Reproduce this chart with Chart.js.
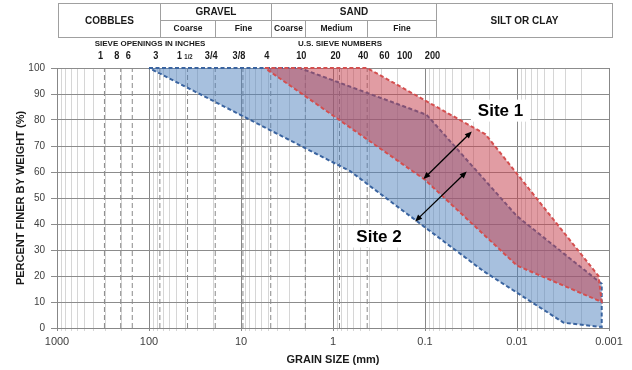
<!DOCTYPE html>
<html>
<head>
<meta charset="utf-8">
<script src="https://cdn.jsdelivr.net/npm/chart.js@4.4.1/dist/chart.umd.min.js"></script>
<style>
  html, body { margin: 0; padding: 0; background: #fff; }
  #wrap { width: 632px; height: 370px; }
</style>
</head>
<body>
<div id="wrap"><canvas id="chart"></canvas></div>
<script>
// grain size bands, size in mm and percent finer
const site1UpperSize = [5.5, 0.425, 0.022, 0.0013];
const site1UpperPct  = [100, 100, 74.5, 20];
const site1LowerSize = [5.5, 0.1, 0.01, 0.0012];
const site1LowerPct  = [100, 57, 24, 10];

const site2UpperSize = [100, 2.3, 0.096, 0.01, 0.0012];
const site2UpperPct  = [100, 100, 82, 43, 17];
const site2LowerSize = [100, 0.65, 0.023, 0.0031, 0.0012];
const site2LowerPct  = [100, 60.3, 21.8, 2, 0.4];

// axes
const decades = [1000, 100, 10, 1, 0.1, 0.01, 0.001];
const decadeLabels = ['1000', '100', '10', '1', '0.1', '0.01', '0.001'];
const pctTicks = [0, 10, 20, 30, 40, 50, 60, 70, 80, 90, 100];

// sieves (dashed lines + labels)
const sieveLineSizes = [305, 203, 152, 76.2, 38.1, 19.05, 9.525, 4.75, 2.0, 0.85, 0.425];
const sieveLabelSizes = [305, 203, 152, 76.2, 38.1, 19.05, 9.525, 4.75, 2.0, 0.85, 0.425, 0.25, 0.15, 0.075];
const sieveLabels = ['1', '8', '6', '3', '1 1/2', '3/4', '3/8', '4', '10', '20', '40', '60', '100', '200'];

// soil classes header
const classBounds = [76.2, 19.05, 4.75, 2.0, 0.425, 0.075];
const mainClasses = ['COBBLES', 'GRAVEL', 'SAND', 'SILT OR CLAY'];
const subClasses = ['Coarse', 'Fine', 'Coarse', 'Medium', 'Fine'];

// annotations [size, pct]
const site1Arrow = [[0.104, 57.3], [0.031, 75.6]];
const site2Arrow = [[0.128, 41], [0.0352, 60.2]];
const siteLabels = ['Site 1', 'Site 2'];
const siteLabelPos = [[0.0151, 83.6], [0.316, 35.2]];


function polygon(upS, upP, loS, loP) {
  const pts = upS.map((s, i) => ({ x: s, y: upP[i] }));
  for (let i = loS.length - 1; i >= 0; i--) pts.push({ x: loS[i], y: loP[i] });
  return pts;
}

function isDecade(v) {
  return decades.some(d => Math.abs(d - v) / d < 1e-6);
}

const gridValues = [];
decades.slice(1).forEach(d => {
  for (let k = 1; k <= 9; k++) gridValues.push(+(d * k).toPrecision(6));
});
gridValues.push(1000);
gridValues.sort((a, b) => a - b);

const sieveLineData = [];
sieveLineSizes.forEach(s => {
  sieveLineData.push({ x: s, y: 0 }, { x: s, y: 100 }, { x: s, y: null });
});

const FONT = "'Liberation Sans', Arial, sans-serif";

function hline(ctx, x1, x2, y) { ctx.beginPath(); ctx.moveTo(x1, y); ctx.lineTo(x2, y); ctx.stroke(); }
function vline(ctx, x, y1, y2) { ctx.beginPath(); ctx.moveTo(x, y1); ctx.lineTo(x, y2); ctx.stroke(); }

function arrow(ctx, x1, y1, x2, y2) {
  const a = Math.atan2(y2 - y1, x2 - x1);
  const len = 7, w = 3;
  ctx.beginPath();
  ctx.moveTo(x1 + Math.cos(a) * 4, y1 + Math.sin(a) * 4);
  ctx.lineTo(x2 - Math.cos(a) * 4, y2 - Math.sin(a) * 4);
  ctx.stroke();
  [[x1, y1, a + Math.PI], [x2, y2, a]].forEach(([x, y, t]) => {
    ctx.beginPath();
    ctx.moveTo(x, y);
    ctx.lineTo(x - Math.cos(t) * len - Math.sin(t) * w, y - Math.sin(t) * len + Math.cos(t) * w);
    ctx.lineTo(x - Math.cos(t) * len + Math.sin(t) * w, y - Math.sin(t) * len - Math.cos(t) * w);
    ctx.closePath();
    ctx.fill();
  });
}

const headerPlugin = {
  id: 'header',
  afterDatasetsDraw(chart) {
    const { ctx } = chart;
    const xs = chart.scales.x, ys = chart.scales.y;
    ctx.save();
    // arrows
    ctx.strokeStyle = '#000'; ctx.fillStyle = '#000'; ctx.lineWidth = 1.3;
    [site1Arrow, site2Arrow].forEach(a => {
      arrow(ctx, xs.getPixelForValue(a[0][0]), ys.getPixelForValue(a[0][1]),
                 xs.getPixelForValue(a[1][0]), ys.getPixelForValue(a[1][1]));
    });
    // site labels
    ctx.font = 'bold 17px ' + FONT;
    ctx.textAlign = 'center'; ctx.textBaseline = 'middle';
    siteLabels.forEach((t, i) => {
      const x = xs.getPixelForValue(siteLabelPos[i][0]);
      const y = ys.getPixelForValue(siteLabelPos[i][1]);
      const w = ctx.measureText(t).width + 14;
      ctx.fillStyle = '#fff';
      ctx.fillRect(x - w / 2, y - 11, w, 22);
      ctx.fillStyle = '#000';
      ctx.fillText(t, x, y + 1);
    });
    ctx.restore();
  },
  afterDraw(chart) {
    const { ctx, chartArea } = chart;
    const xs = chart.scales.x;
    const px = v => Math.round(xs.getPixelForValue(v)) + 0.5;
    const left = chartArea.left + 1.5, right = chartArea.right + 3.5;
    const top = 3.5, mid = 20.5, bot = 37.5;
    const b = classBounds.map(px);
    ctx.save();
    ctx.strokeStyle = '#a0a0a0'; ctx.lineWidth = 1;
    ctx.strokeRect(left, top, right - left, bot - top);
    vline(ctx, b[0], top, bot); vline(ctx, b[2], top, bot); vline(ctx, b[5], top, bot);
    hline(ctx, b[0], b[5], mid);
    vline(ctx, b[1], mid, bot); vline(ctx, b[3], mid, bot); vline(ctx, b[4], mid, bot);

    ctx.fillStyle = '#1a1a1a';
    ctx.textAlign = 'center'; ctx.textBaseline = 'middle';
    ctx.font = 'bold 10px ' + FONT;
    ctx.fillText(mainClasses[0], (left + b[0]) / 2, 21);
    ctx.fillText(mainClasses[1], (b[0] + b[2]) / 2, 12.5);
    ctx.fillText(mainClasses[2], (b[2] + b[5]) / 2, 12.5);
    ctx.fillText(mainClasses[3], (b[5] + right) / 2, 21);
    ctx.font = 'bold 8.5px ' + FONT;
    subClasses.forEach((t, i) => {
      ctx.fillText(t, (b[i] + b[i + 1]) / 2, 29);
    });

    // sieve captions
    ctx.font = 'bold 8px ' + FONT;
    ctx.fillText('SIEVE OPENINGS IN INCHES', 150, 44);
    ctx.fillText('U.S. SIEVE NUMBERS', 340, 44);

    sieveLabels.forEach((t, i) => {
      const x = xs.getPixelForValue(sieveLabelSizes[i]) - 4;
      ctx.save();
      ctx.translate(x, 56);
      ctx.scale(0.8, 1);
      if (t === '1 1/2') {
        ctx.font = 'bold 11px ' + FONT;
        ctx.textAlign = 'right';
        ctx.fillText('1', -2, 0);
        ctx.font = 'bold 7.5px ' + FONT;
        ctx.textAlign = 'left';
        ctx.fillText('1/2', 1, 0.5);
      } else {
        ctx.font = 'bold 11.5px ' + FONT;
        ctx.fillText(t, 0, 0);
      }
      ctx.restore();
    });
    ctx.restore();
  }
};

Chart.defaults.font.family = FONT;
Chart.defaults.color = '#404040';

new Chart(document.getElementById('chart'), {
  type: 'scatter',
  data: {
    datasets: [
      {
        label: 'Site 1',
        data: polygon(site1UpperSize, site1UpperPct, site1LowerSize, site1LowerPct),
        showLine: true,
        fill: 'shape',
        backgroundColor: 'rgba(198, 66, 78, 0.52)',
        borderColor: '#d44f4f',
        borderWidth: 2,
        borderDash: [4, 2.5],
        pointRadius: 0,
        clip: false
      },
      {
        label: 'Site 2',
        data: polygon(site2UpperSize, site2UpperPct, site2LowerSize, site2LowerPct),
        showLine: true,
        fill: 'shape',
        backgroundColor: 'rgba(79, 129, 189, 0.5)',
        borderColor: '#3a64a0',
        borderWidth: 2,
        borderDash: [4, 2.5],
        pointRadius: 0,
        clip: false
      },
      {
        label: 'sieves',
        data: sieveLineData,
        showLine: true,
        spanGaps: false,
        fill: false,
        borderColor: '#8a8a8a',
        borderWidth: 1,
        borderDash: [5, 3],
        pointRadius: 0
      }
    ]
  },
  options: {
    responsive: true,
    maintainAspectRatio: false,
    animation: false,
    devicePixelRatio: 1,
    layout: { padding: { top: 68, right: 23, left: 0, bottom: 0 } },
    plugins: { legend: { display: false }, tooltip: { enabled: false } },
    scales: {
      x: {
        type: 'logarithmic',
        reverse: true,
        min: 0.001,
        max: 1000,
        afterBuildTicks: (scale) => { scale.ticks = gridValues.map(v => ({ value: v })); },
        afterFit: (scale) => { scale.height = 42; },
        ticks: {
          autoSkip: false,
          maxRotation: 0,
          padding: 4,
          font: { size: 11 },
          callback: (v) => {
            const i = decades.findIndex(d => Math.abs(d - v) / d < 1e-6);
            return i >= 0 ? decadeLabels[i] : '';
          }
        },
        grid: {
          color: (c) => (c.tick && isDecade(c.tick.value)) ? '#878787' : '#d6d6d6',
          tickColor: (c) => (c.tick && isDecade(c.tick.value)) ? '#878787' : '#d6d6d6',
          tickLength: 3,
          lineWidth: 1
        },
        border: { display: true, color: '#878787' },
        title: {
          display: true,
          text: 'GRAIN SIZE (mm)',
          color: '#1a1a1a',
          font: { size: 11, weight: 'bold' },
          padding: { top: 0, bottom: 3 }
        }
      },
      y: {
        min: 0,
        max: 100,
        afterBuildTicks: (scale) => { scale.ticks = pctTicks.map(v => ({ value: v })); },
        afterFit: (scale) => { scale.width = 57; },
        ticks: { padding: 6, font: { size: 10 } },
        grid: { color: '#8c8c8c', tickColor: '#8c8c8c', tickLength: 6 },
        border: { display: true, color: '#878787' },
        title: {
          display: true,
          text: 'PERCENT FINER BY WEIGHT (%)',
          color: '#1a1a1a',
          font: { size: 11, weight: 'bold' },
          padding: { top: 14, bottom: 0 }
        }
      }
    }
  },
  plugins: [headerPlugin]
});
</script>
</body>
</html>
